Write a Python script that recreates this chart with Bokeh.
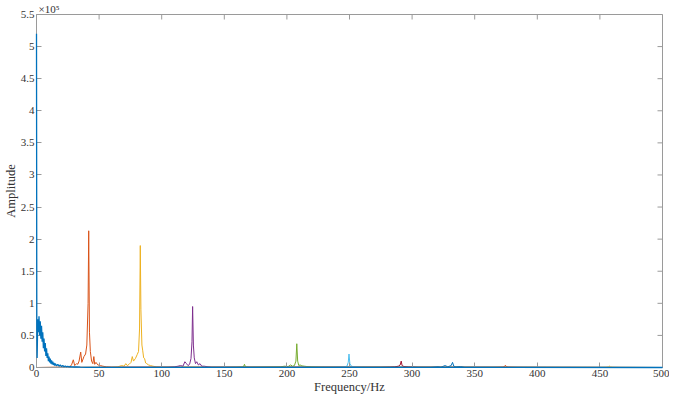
from bokeh.plotting import figure
from bokeh.models import FixedTicker, CustomJSTickFormatter, Range1d
from bokeh.embed import file_html
from bokeh.resources import INLINE

# ---- data (amplitude in units of 1e5) ----
f1 = [0, 0.25, 0.5, 1, 1.5, 2, 2.5, 3, 3.5, 4, 4.5, 5, 5.5, 6, 6.5, 7, 7.5, 8, 8.5, 9, 9.5, 10,
      10.5, 11, 11.5, 12, 12.5, 13, 13.5, 14, 14.5, 15, 16, 17, 18, 19, 20, 21, 22, 23, 24, 25,
      26, 27, 28, 30, 32, 35, 40, 500]
a1 = [5.2, 0.6, 0.15, 0.75, 0.55, 0.8, 0.5, 0.72, 0.45, 0.65, 0.4, 0.55, 0.3, 0.45, 0.25, 0.38,
      0.18, 0.3, 0.15, 0.22, 0.1, 0.17, 0.08, 0.14, 0.06, 0.11, 0.05, 0.09, 0.04, 0.07, 0.03,
      0.06, 0.025, 0.05, 0.02, 0.04, 0.015, 0.03, 0.01, 0.025, 0.01, 0.02, 0.008, 0.015, 0.01,
      0.008, 0.01, 0.005, 0.003, 0]

f2 = [0, 20, 25, 27, 28, 29.4, 30.5, 32, 33, 34, 35.3, 36.2, 37.9, 39.2, 40.2, 41.2, 41.7, 42.3,
      43, 44, 45, 45.8, 46.5, 47.5, 49, 51, 53, 56, 60, 500]
a2 = [0, 0.005, 0.01, 0.02, 0.04, 0.12, 0.03, 0.06, 0.05, 0.1, 0.24, 0.08, 0.17, 0.21, 0.35,
      1.0, 2.13, 0.55, 0.25, 0.1, 0.06, 0.17, 0.05, 0.08, 0.04, 0.03, 0.02, 0.01, 0.005, 0]

f3 = [0, 60, 65, 68, 70, 71.3, 72.5, 74, 75.5, 76.5, 77.5, 79, 80.4, 81.5, 82.3, 82.9, 83.4,
      84.2, 84.8, 85.6, 86.3, 87.2, 88, 89.5, 91, 93, 96, 100, 500]
a3 = [0, 0.005, 0.01, 0.03, 0.02, 0.06, 0.03, 0.05, 0.08, 0.17, 0.1, 0.14, 0.2, 0.25, 0.6, 1.9,
      0.9, 0.35, 0.27, 0.15, 0.14, 0.07, 0.06, 0.04, 0.03, 0.02, 0.01, 0.005, 0]

f4 = [0, 105, 110, 113, 115, 117, 118.5, 119.8, 121, 122.3, 123.4, 124.2, 124.7, 125.3, 126,
      127, 128, 129.3, 130.6, 132, 134, 137, 140, 500]
a4 = [0, 0.005, 0.01, 0.02, 0.03, 0.02, 0.09, 0.06, 0.03, 0.05, 0.14, 0.4, 0.95, 0.35, 0.15,
      0.06, 0.09, 0.04, 0.06, 0.02, 0.02, 0.01, 0.005, 0]

f5 = [0, 150, 160, 164, 165.3, 166.1, 166.9, 170, 185, 195, 198, 201, 203, 204.5, 206, 207.2,
      207.9, 208.6, 209.5, 210.5, 212, 214, 216, 220, 230, 500]
a5 = [0, 0.002, 0.005, 0.008, 0.01, 0.05, 0.01, 0.005, 0.008, 0.01, 0.02, 0.015, 0.04, 0.02,
      0.03, 0.1, 0.37, 0.1, 0.03, 0.04, 0.025, 0.02, 0.015, 0.01, 0.005, 0]

f6 = [0, 235, 242, 246, 248, 249, 249.6, 250.3, 251.5, 254, 258, 265, 500]
a6 = [0, 0.003, 0.006, 0.01, 0.02, 0.08, 0.21, 0.06, 0.02, 0.01, 0.005, 0.002, 0]

f7 = [0, 275, 282, 286, 289, 290.5, 291.3, 292, 293.5, 297, 305, 500]
a7 = [0, 0.003, 0.006, 0.01, 0.02, 0.04, 0.1, 0.03, 0.015, 0.008, 0.003, 0]

f8 = [0, 315, 320.7, 323, 326.4, 328.5, 331.2, 332.3, 333.3, 335, 338.7, 342, 500]
a8 = [0, 0.003, 0.012, 0.005, 0.03, 0.01, 0.03, 0.08, 0.02, 0.01, 0.015, 0.003, 0]

f9 = [0, 365, 372, 373.5, 374.5, 375.5, 377, 385, 500]
a9 = [0, 0.002, 0.005, 0.01, 0.035, 0.01, 0.005, 0.002, 0]

f10 = [0, 450, 455, 456.8, 457.6, 458.4, 460, 465, 500]
a10 = [0, 0.002, 0.004, 0.008, 0.02, 0.008, 0.004, 0.002, 0]

x_ticks = [0, 50, 100, 150, 200, 250, 300, 350, 400, 450, 500]
y_ticks = [0, 0.5, 1, 1.5, 2, 2.5, 3, 3.5, 4, 4.5, 5, 5.5]
x_max = 500
y_max = 5.5

series = [(f1, a1, "#0072BD"), (f2, a2, "#D95319"), (f3, a3, "#EDB120"),
          (f4, a4, "#7E2F8E"), (f5, a5, "#77AC30"), (f6, a6, "#4DBEEE"),
          (f7, a7, "#A2142F"), (f8, a8, "#0072BD"), (f9, a9, "#D95319"),
          (f10, a10, "#EDB120")]

FONT = "Liberation Serif"
AX = "#9a9a9a"
TXT = "#333333"

p = figure(width=669, height=396, output_backend="svg", toolbar_location=None,
           x_range=Range1d(0, x_max), y_range=Range1d(0, y_max),
           min_border_left=28, min_border_right=7, min_border_top=4, min_border_bottom=28,
           x_axis_label="Frequency/Hz", y_axis_label="Amplitude",
           title="×10⁵")
p.outline_line_color = AX
p.grid.visible = False

p.title.text_font = FONT
p.title.text_font_size = "11px"
p.title.text_font_style = "normal"
p.title.text_color = TXT
p.title.align = "left"
p.title.offset = 2
p.title.standoff = 0

for i, (f, a, c) in enumerate(series):
    r = p.line(f, a, color=c, line_width=1.3 if i == 0 else 1)
    if i == 0:
        r.level = "overlay"

# inward ticks on the top and right edges of the box (half of each dash is clipped)
p.scatter(x=x_ticks, y=[y_max] * len(x_ticks), marker="dash", angle=1.5708, size=10,
          line_color=AX, line_width=1)
p.scatter(x=[x_max] * len(y_ticks), y=y_ticks, marker="dash", size=10,
          line_color=AX, line_width=1)

for ax in (p.xaxis[0], p.yaxis[0]):
    ax.axis_line_color = AX
    ax.major_tick_line_color = AX
    ax.minor_tick_line_color = None
    ax.major_tick_in = 5
    ax.major_tick_out = 0
    ax.major_label_text_font = FONT
    ax.major_label_text_font_size = "11px"
    ax.major_label_text_color = TXT
    ax.axis_label_text_font = FONT
    ax.axis_label_text_font_size = "12.5px"
    ax.axis_label_text_font_style = "normal"
    ax.axis_label_text_color = TXT
    ax.major_label_standoff = 2
    ax.axis_label_standoff = 0

p.xaxis.ticker = FixedTicker(ticks=x_ticks)
p.yaxis.ticker = FixedTicker(ticks=y_ticks)
p.yaxis.formatter = CustomJSTickFormatter(code="return tick.toString();")

open("out.html", "w").write(file_html(p, INLINE))
